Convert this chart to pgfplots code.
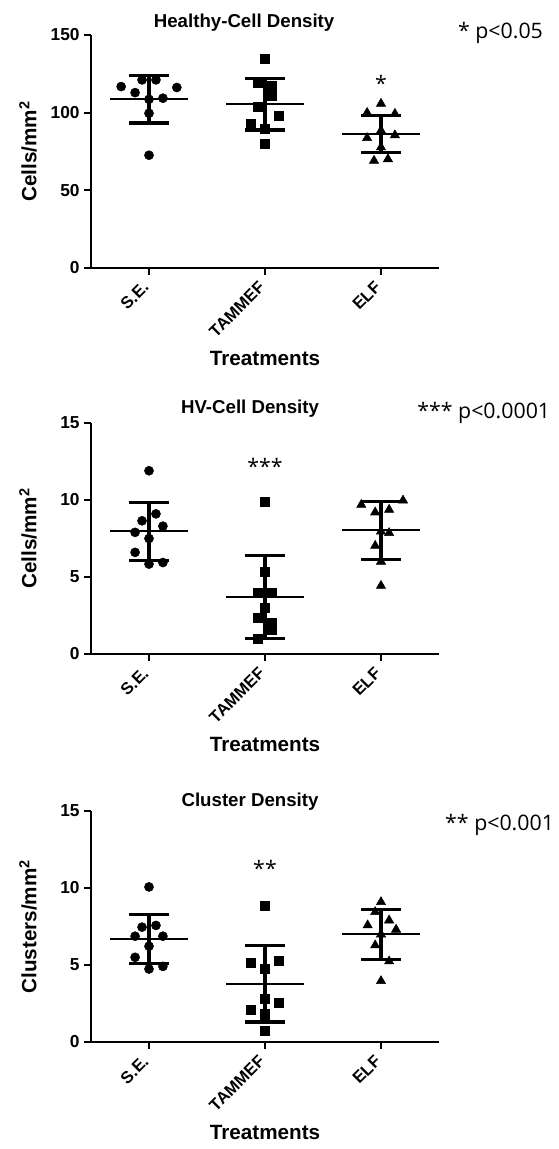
\documentclass[border=0pt]{standalone}
\usepackage{fontspec}
\setmainfont{Liberation Sans}
\newfontfamily\pfont{Open Sans}
\usepackage{pgfplots}
\pgfplotsset{compat=1.18}
\usetikzlibrary{plotmarks}

% Healthy-cell density (cells/mm^2)
\pgfplotstableread{
x y
0.76 116.8
0.94 121.1
1.06 121.1
1.24 116.2
0.88 112.9
1.00 108.6
1.12 109.3
1.00 99.6
1.00 72.6
}\hcSE
\pgfplotstableread{
x y
2.00 134.5
1.94 119.4
2.06 117.5
2.06 110.8
1.94 103.9
2.12 98.1
1.88 93.1
2.00 89.9
2.00 79.7
}\hcTA
\pgfplotstableread{
x y
3.00 105.8
2.88 99.9
3.12 99.3
3.00 88.5
2.88 83.7
3.12 85.5
3.00 77.7
2.94 69.1
3.06 70.1
}\hcELF

% HV-cell density
\pgfplotstableread{
x y
1.00 11.9
1.06 9.1
0.94 8.65
1.12 8.3
0.88 7.9
1.00 7.5
0.88 6.6
1.00 5.84
1.12 5.94
}\hvSE
\pgfplotstableread{
x y
2.00 9.87
2.00 5.34
1.94 4.0
2.06 4.0
2.00 2.98
1.94 2.34
2.06 2.0
2.06 1.55
1.94 1.0
}\hvTA
\pgfplotstableread{
x y
2.83 9.69
3.19 9.97
2.95 9.2
3.07 9.37
3.00 7.96
3.07 7.86
2.95 7.03
3.00 6.0
3.00 4.43
}\hvELF

% Cluster density
\pgfplotstableread{
x y
1.00 10.07
0.94 7.46
1.06 7.57
0.88 6.87
1.12 6.87
1.00 6.22
0.88 5.5
1.00 4.74
1.12 4.91
}\clSE
\pgfplotstableread{
x y
2.00 8.87
1.88 5.17
2.12 5.28
2.00 4.74
2.00 2.78
2.12 2.52
1.88 2.09
2.00 1.8
2.00 0.76
}\clTA
\pgfplotstableread{
x y
3.00 9.09
2.95 8.44
2.885 7.58
3.07 7.9
3.13 7.3
3.00 6.99
2.95 6.28
3.07 5.24
3.00 3.96
}\clELF

\tikzset{ptext/.style={anchor=west, inner sep=0pt, font=\pfont\fontsize{16}{19}\selectfont}}

\pgfplotsset{
  dotplot/.style={
    width=261pt, scale only axis,
    xmin=0.5, xmax=3.5, ymin=0,
    axis x line*=bottom, axis y line*=left,
    axis line style={line width=1.6pt, -},
    xtick={1,2,3}, xticklabels={S.E.,TAMMEF,ELF},
    tick style={line width=1.6pt, black},
    tick align=outside, major tick length=5pt,
    xticklabel shift=5pt,
    xticklabel style={rotate=45, anchor=east, font=\bfseries\fontsize{12.5}{15}\selectfont},
    yticklabel={\pgfmathprintnumber[assume math mode=true]{\tick}},
    yticklabel style={font=\bfseries\fontsize{13}{15}\selectfont},
    xlabel={Treatments},
    every axis x label/.style={at={(axis description cs:0.5,0)}, anchor=center, yshift=-68pt,
      font=\bfseries\fontsize{15.5}{18}\selectfont},
    every axis y label/.style={at={(axis description cs:-0.181,0.5)}, rotate=90, anchor=center,
      font=\bfseries\fontsize{15.5}{18}\selectfont},
    clip=false,
  },
  pts/.style={only marks, black, mark options={fill=black, draw=black}},
  msd/.style={only marks, black, mark=-, mark size=29pt, mark options={line width=1.5pt},
    error bars/.cd, y dir=both, y explicit,
    error bar style={line width=2.4pt},
    error mark options={rotate=90, mark size=15pt, line width=2.4pt}},
}

\begin{document}
\begin{tikzpicture}
\useasboundingbox (-68.25pt,-660.75pt) rectangle (351pt,201pt);

% panel 1
\begin{axis}[dotplot, at={(0,0)}, anchor=south west, height=174.75pt,
  ymax=150, ytick={0,50,100,150}, ylabel={Cells/mm$^{\mathbf{2}}$}]
  \addplot[pts, mark=*, mark size=3.4pt] table {\hcSE};
  \addplot[pts, mark=square*, mark size=3.4pt] table {\hcTA};
  \addplot[pts, mark=triangle*, mark size=4pt] table {\hcELF};
  \addplot[msd] coordinates {(1,108.6) +- (0,15.3) (2,105.5) +- (0,16.7) (3,86.2) +- (0,12.1)};
  \node[anchor=base, font=\bfseries\fontsize{14}{16}\selectfont] at (rel axis cs:0.44,1) [yshift=5.25pt] {Healthy-Cell Density};
  \node[ptext] at (rel axis cs:1.054,1.009) {* p<0.05};
  \node[font=\pfont\fontsize{16}{19}\selectfont] at (axis cs:3,119) {*};
\end{axis}

% panel 2
\begin{axis}[dotplot, at={(0,-289.5pt)}, anchor=south west, height=173.25pt,
  ymax=15, ytick={0,5,10,15}, ylabel={Cells/mm$^{\mathbf{2}}$}]
  \addplot[pts, mark=*, mark size=3.4pt] table {\hvSE};
  \addplot[pts, mark=square*, mark size=3.4pt] table {\hvTA};
  \addplot[pts, mark=triangle*, mark size=4pt] table {\hvELF};
  \addplot[msd] coordinates {(1,7.97) +- (0,1.88) (2,3.71) +- (0,2.71) (3,8.03) +- (0,1.88)};
  \node[anchor=base, font=\bfseries\fontsize{14}{16}\selectfont] at (rel axis cs:0.457,1) [yshift=7.5pt] {HV-Cell Density};
  \node[ptext] at (rel axis cs:0.937,1.043) {*** p<0.0001};
  \node[font=\pfont\fontsize{16}{19}\selectfont] at (axis cs:2,12.2) {***};
\end{axis}

% panel 3
\begin{axis}[dotplot, at={(0,-580.5pt)}, anchor=south west, height=173.25pt,
  ymax=15, ytick={0,5,10,15}, ylabel={Clusters/mm$^{\mathbf{2}}$}]
  \addplot[pts, mark=*, mark size=3.4pt] table {\clSE};
  \addplot[pts, mark=square*, mark size=3.4pt] table {\clTA};
  \addplot[pts, mark=triangle*, mark size=4pt] table {\clELF};
  \addplot[msd] coordinates {(1,6.7) +- (0,1.6) (2,3.78) +- (0,2.48) (3,6.99) +- (0,1.61)};
  \node[anchor=base, font=\bfseries\fontsize{14}{16}\selectfont] at (rel axis cs:0.457,1) [yshift=3.75pt] {Cluster Density};
  \node[ptext] at (rel axis cs:1.017,0.939) {** p<0.001};
  \node[font=\pfont\fontsize{16}{19}\selectfont] at (axis cs:2,11.3) {**};
\end{axis}
\end{tikzpicture}
\end{document}
